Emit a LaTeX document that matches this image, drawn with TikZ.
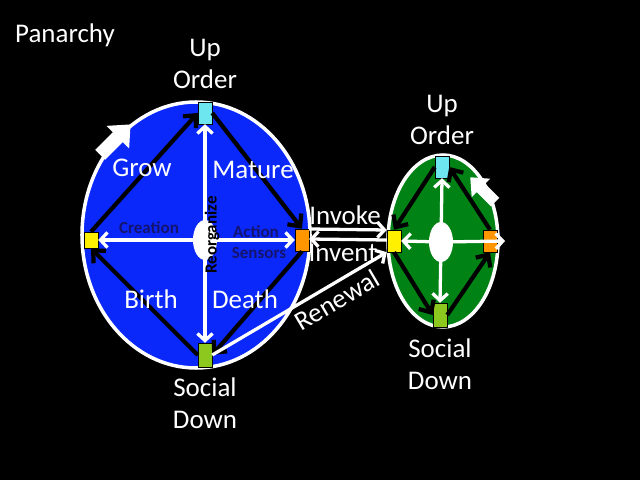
\documentclass[tikz,border=0pt]{standalone}
\usepackage{fontspec}
\setmainfont{Carlito}
\usetikzlibrary{arrows.meta}
\definecolor{cycleblue}{RGB}{10,40,250}
\definecolor{cyclegreen}{RGB}{0,130,20}
\definecolor{upcyan}{RGB}{110,230,240}
\definecolor{leftyellow}{RGB}{255,240,0}
\definecolor{rightorange}{RGB}{255,150,0}
\definecolor{downgreen}{RGB}{140,200,30}
\definecolor{navytext}{RGB}{20,20,110}
\tikzset{
  sq/.style={draw=black, line width=0.4pt, minimum width=0.42cm, minimum height=0.66cm, inner sep=0pt},
  lbl/.style={text=white, font=\fontsize{23}{27}\selectfont, align=center, inner sep=0pt},
  small/.style={font=\bfseries\fontsize{14.5}{16}\selectfont, inner sep=0pt},
  blackarr/.style={draw=black, line width=3.6pt, -{Straight Barb[length=8pt,width=15pt]}},
  whitearr/.style={draw=white, line width=2.8pt},
  wtip/.style={-{Straight Barb[length=6pt,width=13pt]}},
  wtips/.style={{Straight Barb[length=6pt,width=13pt]}-{Straight Barb[length=6pt,width=13pt]}},
}
\begin{document}
\begin{tikzpicture}[x=0.03cm, y=-0.03cm]
	\fill[black] (0,0) rectangle (640,480);
	\node[lbl] (title) at (65,35) {Panarchy};
	% grand cycle
	\draw[white, line width=3pt, fill=cycleblue] (196,235) ellipse [x radius=114, y radius=133];
	\node[sq, fill=upcyan] (bU) at (205,113) {};
	\node[sq, fill=leftyellow, minimum height=0.48cm] (bL) at (91,240) {};
	\node[sq, fill=rightorange] (bR) at (302,240) {};
	\node[sq, fill=downgreen, minimum height=0.72cm] (bB) at (205,355) {};
	\draw[whitearr, wtips] (bU.south) -- (bB.north);
	\draw[whitearr, wtips] (bL.east) -- (bR.west);
	\fill[white] (205,240) ellipse [x radius=12, y radius=20];
	\draw[blackarr] (bL.north) -- (bU.west);
	\draw[blackarr] (bU.east) -- (bR.north);
	\draw[blackarr] (bR.south) -- (bB.east);
	\draw[blackarr] (bB.west) -- (bL.south);
	\fill[white, shift={(115,140)}, rotate=45] (-21,-7) -- (4,-7) -- (4,-16) -- (22,0) -- (4,16) -- (4,7) -- (-21,7) -- cycle;
	\node[lbl] (bTop) at (205,64) {Up\\Order};
	\node[lbl] (bBot) at (205,403) {Social\\Down};
	\node[lbl] (grow) at (142,168) {Grow};
	\node[lbl] (mature) at (253,170) {Mature};
	\node[lbl] (birth) at (151,299) {Birth};
	\node[lbl] (death) at (245,299) {Death};
	\node[small, text=navytext] (creation) at (149,228) {Creation};
	\node[small, text=navytext] (action) at (256,232) {Action};
	\node[small, text=navytext] (sensors) at (259,253) {Sensors};
	\node[small, text=black, rotate=90] (reorg) at (212,235) {Reorganize};
	% petit cycle
	\draw[white, line width=3pt, fill=cyclegreen] (443,241) ellipse [x radius=55, y radius=86];
	\node[sq, fill=upcyan] (sU) at (442,167) {};
	\node[sq, fill=leftyellow] (sL) at (394,241) {};
	\node[sq, fill=rightorange] (sR) at (490,241) {};
	\node[sq, fill=downgreen, minimum height=0.72cm] (sB) at (440,315) {};
	\coordinate (sC) at (441,242);
	\coordinate (sEnd) at (505,241);
	\draw[whitearr, wtip] (sC) -- (sU.south);
	\draw[whitearr, wtip] (sC) -- (sB.north);
	\draw[whitearr, wtip] (sC) -- (sL.east);
	\draw[whitearr, wtip] (sC) -- (sEnd);
	\fill[white] (sC) ellipse [x radius=12, y radius=20];
	\draw[blackarr] (sU.west) -- (sL.north);
	\draw[blackarr] (sL.south) -- (sB.west);
	\draw[blackarr] (sB.east) -- (sR.south);
	\draw[blackarr] (sR.north) -- (sU.east);
	\fill[white, shift={(483,190)}, rotate=135] (-17,-6) -- (3,-6) -- (3,-13) -- (18,0) -- (3,13) -- (3,6) -- (-17,6) -- cycle;
	\node[lbl] (sTop) at (442,120) {Up\\Order};
	\node[lbl] (sBot) at (440,364) {Social\\Down};
	% liens
	\draw[whitearr, wtip] ([yshift=3.3mm]bR.east) -- ([yshift=3.3mm]sL.west);
	\draw[whitearr, wtip] ([yshift=0.3mm]sL.west) -- ([yshift=0.3mm]bR.east);
	\draw[whitearr, wtip] (bB.east) -- (sL.south west) node[lbl, sloped, below=4pt, pos=0.67] (renewal) {Renewal};
	\node[lbl] (invoke) at (345,215) {Invoke};
	\node[lbl] (invent) at (343,253) {Invent};
\end{tikzpicture}
\end{document}
